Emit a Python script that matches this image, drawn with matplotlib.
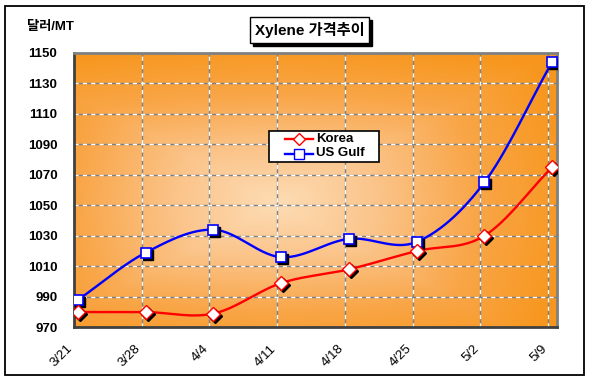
import numpy as np
import matplotlib
matplotlib.use('Agg')
import matplotlib.pyplot as plt
from matplotlib.colors import LinearSegmentedColormap
from matplotlib.lines import Line2D
import matplotlib.transforms as mtransforms

plt.rcParams['font.family'] = ['Liberation Sans', 'Noto Sans CJK KR', 'DejaVu Sans']

# 데이터
dates = ['3/21', '3/28', '4/4', '4/11', '4/18', '4/25', '5/2', '5/9']
korea = [980, 980, 979, 999, 1008, 1020, 1030, 1075]
us_gulf = [988, 1019, 1034, 1016, 1028, 1026, 1065, 1144]
y_ticks = [970, 990, 1010, 1030, 1050, 1070, 1090, 1110, 1130, 1150]

W, H = 589, 380


def fx(px):
    return px / W


def fy(py):
    return 1 - py / H


def smooth(y, n=30):
    # 엑셀식 부드러운 선 (Catmull-Rom)
    y = np.asarray(y, float)
    x = np.arange(len(y), dtype=float)
    px = np.concatenate([[2 * x[0] - x[1]], x, [2 * x[-1] - x[-2]]])
    py = np.concatenate([[2 * y[0] - y[1]], y, [2 * y[-1] - y[-2]]])
    xs, ys = [], []
    t = np.linspace(0, 1, n)
    for i in range(1, len(px) - 2):
        for p, out in ((px, xs), (py, ys)):
            p0, p1, p2, p3 = p[i - 1], p[i], p[i + 1], p[i + 2]
            out.append(0.5 * (2 * p1 + (-p0 + p2) * t + (2 * p0 - 5 * p1 + 4 * p2 - p3) * t ** 2
                              + (-p0 + 3 * p1 - 3 * p2 + p3) * t ** 3))
    return np.concatenate(xs), np.concatenate(ys)


fig = plt.figure(figsize=(W / 100, H / 100), dpi=100)
fig.patch.set_facecolor('white')
fig.add_artist(plt.Rectangle((fx(4.5), fy(374.5)), 579 / W, 369 / H,
                             transform=fig.transFigure, fill=False, ec='black', lw=1.3))

ax = fig.add_axes([fx(74), fy(327.3), 483 / W, 274.5 / H])

# 배경 그라데이션
cmap = LinearSegmentedColormap.from_list('org', ['#fddcb4', '#fbc48a', '#f9a648', '#f7961c'])
gx, gy = np.meshgrid(np.linspace(0, 1, 300), np.linspace(0, 1, 200))
d = np.maximum(np.abs(gx - 0.42) / 0.58, np.abs(gy - 0.45) / 0.55)
d = np.clip(0.6 * d + 0.4 * np.sqrt(((gx - 0.42) / 0.58) ** 2 + ((gy - 0.45) / 0.55) ** 2) / 1.2, 0, 1)
ax.imshow(d, cmap=cmap, extent=[0, 1, 0, 1], transform=ax.transAxes,
          aspect='auto', zorder=0, origin='lower')

x = np.arange(len(dates))
off = 0.06
ax.set_xlim(-off, 7 - off + 9 / 67.7)
ax.set_ylim(970, 1150)

# 격자선
for yv in y_ticks[1:]:
    ax.axhline(yv, color='#808080', lw=1, zorder=1)
    ax.axhline(yv, color='white', lw=1, ls=(0, (3, 3)), zorder=1.1)
for xv in x[1:] - off:
    ax.axvline(xv, color='#808080', lw=1, zorder=1)
    ax.axvline(xv, color='white', lw=1, ls=(0, (3, 3)), zorder=1.1)

shadow = mtransforms.offset_copy(ax.transData, fig=fig, x=2, y=-2, units='dots')

xs, ys = smooth(us_gulf)
ax.plot(xs, ys, color='#0000ff', lw=1.7, zorder=3)
ax.plot(x, us_gulf, ls='none', marker='s', ms=7.5, mfc='black', mec='black', transform=shadow, zorder=4)
ax.plot(x, us_gulf, ls='none', marker='s', ms=7.5, mfc='white', mec='#0000ff', mew=1.2, zorder=5)

xs, ys = smooth(korea)
ax.plot(xs, ys, color='#ff0000', lw=1.7, zorder=3)
ax.plot(x, korea, ls='none', marker='D', ms=7, mfc='black', mec='black', transform=shadow, zorder=4)
ax.plot(x, korea, ls='none', marker='D', ms=7, mfc='white', mec='#ff0000', mew=1, zorder=5)

ax.set_yticks(y_ticks)
ax.set_yticklabels([str(v) for v in y_ticks], fontsize=9.5, fontweight='bold')
ax.set_xticks(x - off)
ax.set_xticklabels(dates, fontsize=9.5, rotation=45, ha='right', va='center', rotation_mode='anchor')
ax.tick_params(axis='y', length=0, pad=12)
ax.tick_params(axis='x', length=0, pad=14)
for lab in ax.get_xticklabels():
    lab.set_transform(lab.get_transform() + mtransforms.ScaledTranslation(-3 / 100, 0, fig.dpi_scale_trans))

for s in ax.spines.values():
    s.set_color('#808080')
    s.set_linewidth(2)
ax.spines['left'].set_color('#404040')
ax.spines['bottom'].set_color('#404040')

# 제목 (그림자 상자 + 흰 상자)
bx0, by0, bw, bh = 250, 17, 119, 26
fig.add_artist(plt.Rectangle((fx(bx0 + 3), fy(by0 + bh + 3)), bw / W, bh / H,
                             transform=fig.transFigure, fc='black', ec='black', lw=1))
fig.add_artist(plt.Rectangle((fx(bx0), fy(by0 + bh)), bw / W, bh / H,
                             transform=fig.transFigure, fc='white', ec='black', lw=1))
fig.text(fx(bx0 + bw / 2), fy(by0 + bh / 2), 'Xylene 가격추이', fontsize=11,
         fontweight='bold', ha='center', va='center', color='black')

fig.text(fx(27), fy(27), '달러/MT', fontsize=9.5, fontweight='bold', ha='left', va='center')

# 범례 (직접 그림)
fig.add_artist(plt.Rectangle((fx(269), fy(162)), 110 / W, 31 / H,
                             transform=fig.transFigure, fc='white', ec='black', lw=1.2, zorder=6))
legend_rows = [('Korea', '#ff0000', 'D', 6, 138.5), ('US Gulf', '#0000ff', 's', 6.5, 153.5)]
for name, col, mk, ms, ry in legend_rows:
    fig.add_artist(Line2D([fx(285), fx(313)], [fy(ry), fy(ry)], transform=fig.transFigure,
                          color=col, lw=1.7, zorder=7))
    fig.add_artist(Line2D([fx(299)], [fy(ry)], transform=fig.transFigure, ls='none',
                          marker=mk, ms=ms, mfc='white', mec=col, zorder=8))
    fig.text(fx(316), fy(ry), name, fontsize=9.5, fontweight='bold', ha='left', va='center', zorder=8)

fig.savefig('out.png', dpi=100, facecolor='white')
